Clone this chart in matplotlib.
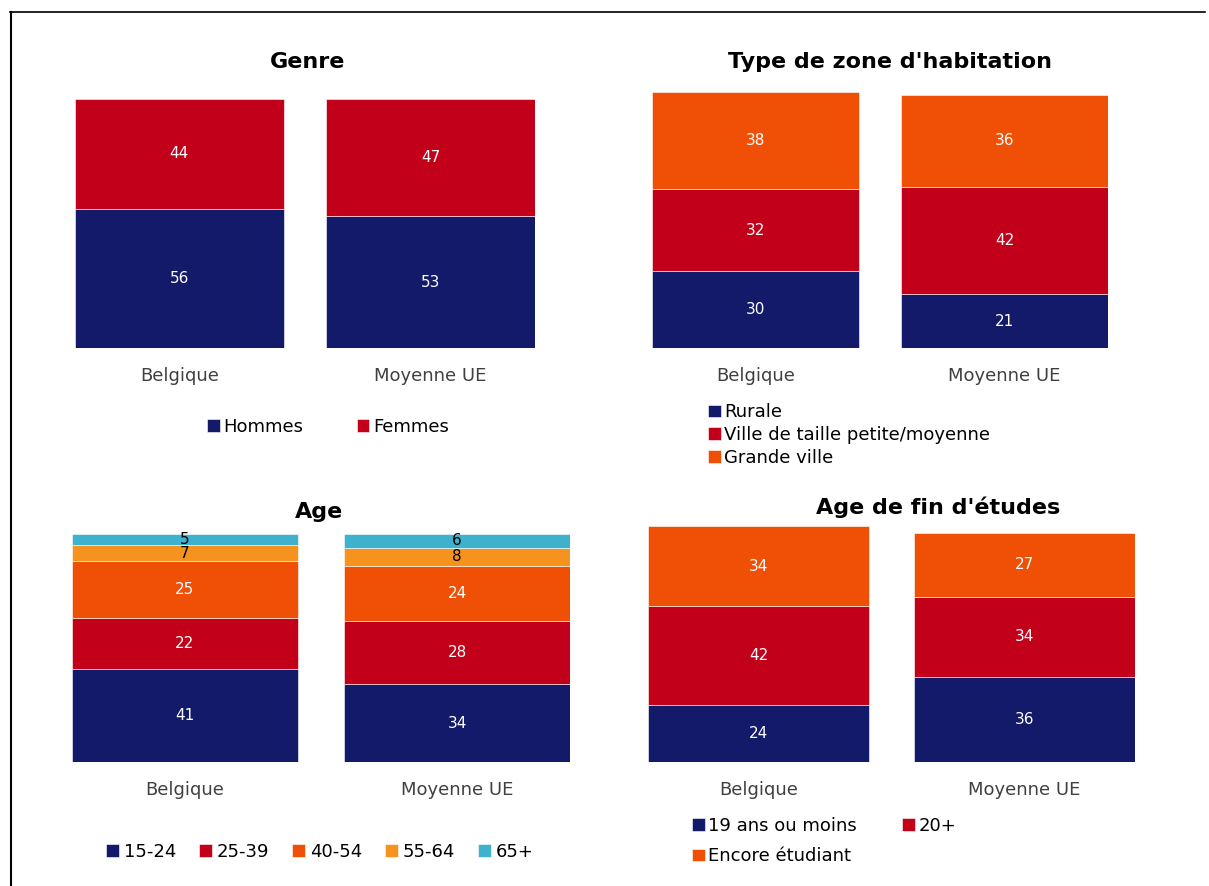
import numpy as np
import matplotlib.pyplot as plt
from matplotlib.lines import Line2D

# Données (%)
pays = ["Belgique", "Moyenne UE"]

genre_labels = ["Hommes", "Femmes"]
genre_vals = [[56, 53], [44, 47]]

zone_labels = ["Rurale", "Ville de taille petite/moyenne", "Grande ville"]
zone_vals = [[30, 21], [32, 42], [38, 36]]

age_labels = ["15-24", "25-39", "40-54", "55-64", "65+"]
age_vals = [[41, 34], [22, 28], [25, 24], [7, 8], [5, 6]]

etudes_labels = ["19 ans ou moins", "20+", "Encore étudiant"]
etudes_vals = [[24, 36], [42, 34], [34, 27]]

NAVY = "#131a6a"
RED = "#c3001a"
ORANGE = "#f05006"
LORANGE = "#f6921e"
CYAN = "#3eb1cd"

W, H = 1209, 886
fig = plt.figure(figsize=(W / 100, H / 100), dpi=100)
plt.rcParams["font.family"] = "DejaVu Sans"


def px_axes(x0, x1, ybot, ytop):
    return fig.add_axes([x0 / W, 1 - ybot / H, (x1 - x0) / W, (ybot - ytop) / H])


def stacked(ax, vals, colors, txtcolors, title, title_x, title_y):
    w = 0.83
    x = np.arange(len(pays))
    bottom = np.zeros(len(pays))
    handles = []
    for v, c, tc in zip(vals, colors, txtcolors):
        v = np.array(v, dtype=float)
        b = ax.bar(x, v, width=w, bottom=bottom, color=c, edgecolor="white", linewidth=0.4)
        handles.append(b)
        for xi, vi, bi in zip(x, v, bottom):
            ax.text(xi, bi + vi / 2, f"{vi:.0f}", ha="center", va="center",
                    color=tc, fontsize=11)
        bottom += v
    ax.set_xlim(-w / 2, 1 + w / 2)
    ax.set_ylim(0, 100)
    ax.set_xticks(x)
    ax.set_xticklabels(pays, fontsize=13, color="#404040")
    ax.tick_params(axis="x", length=0, pad=14)
    ax.set_yticks([])
    for s in ax.spines.values():
        s.set_visible(False)
    fig.text(title_x / W, 1 - title_y / H, title, ha="center", va="center",
             fontsize=16, fontweight="bold")
    return handles


def legend(handles, labels, x, y, ncol, **kw):
    opts = dict(loc="center left", bbox_to_anchor=(x / W, 1 - y / H),
                bbox_transform=fig.transFigure, frameon=False, fontsize=13,
                handlelength=0.7, handleheight=0.7, handletextpad=0.2,
                borderpad=0, borderaxespad=0)
    opts.update(kw)
    fig.legend(handles, labels, ncol=ncol, **opts)


white2 = ["white", "white"]

# Genre
ax1 = px_axes(75, 535, 348, 99)
h = stacked(ax1, genre_vals, [NAVY, RED], white2, "Genre", 308, 62)
legend(h, genre_labels, 207, 427, 2, columnspacing=2.95)

# Type de zone d'habitation
ax2 = px_axes(652, 1108, 348, 92)
h = stacked(ax2, zone_vals, [NAVY, RED, ORANGE], ["white"] * 3,
            "Type de zone d'habitation", 890, 62)
legend(h, zone_labels, 708, 435, 1, labelspacing=0.25)

# Age
ax3 = px_axes(72, 570, 762, 534)
h = stacked(ax3, age_vals, [NAVY, RED, ORANGE, LORANGE, CYAN],
            ["white"] * 3 + ["black"] * 2, "Age", 319, 512)
legend(h, age_labels, 106, 852, 5, columnspacing=1.25, handletextpad=0.3)

# Age de fin d'études
ax4 = px_axes(648, 1135, 762, 526)
h = stacked(ax4, etudes_vals, [NAVY, RED, ORANGE], ["white"] * 3,
            "Age de fin d'études", 938, 507)
legend([h[0], h[2], h[1]], [etudes_labels[0], etudes_labels[2], etudes_labels[1]],
       692, 841, 2, labelspacing=0.7, columnspacing=2.5)

# Cadre
fig.add_artist(Line2D([10 / W, 1205 / W], [1 - 12 / H, 1 - 12 / H], color="black", lw=1.2))
fig.add_artist(Line2D([11 / W, 11 / W], [1 - 12 / H, 0], color="black", lw=1.5))

fig.savefig("out.png", dpi=100)
